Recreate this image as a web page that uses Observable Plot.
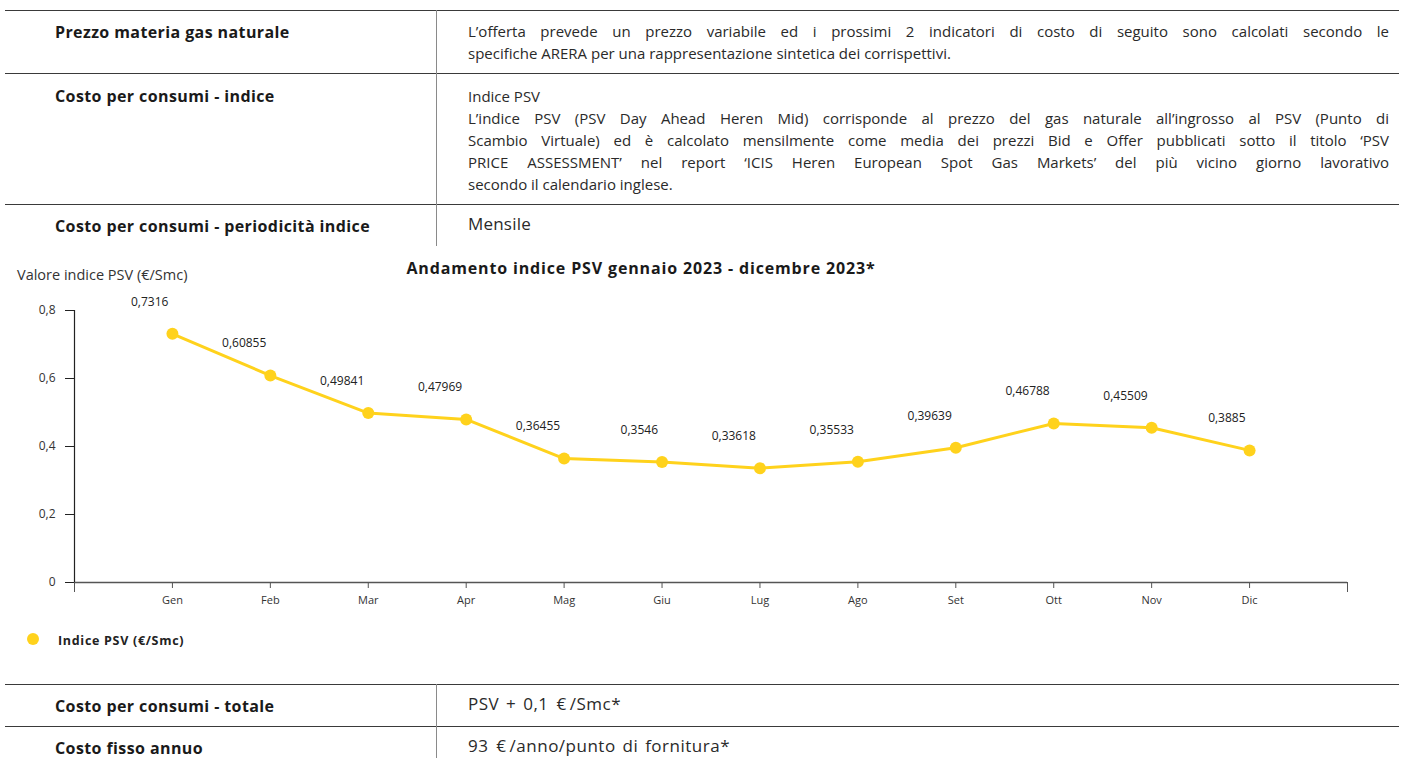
<!DOCTYPE html>
<html>
<head>
<meta charset="utf-8">
<script src="https://cdn.jsdelivr.net/npm/d3@7"></script>
<script src="https://cdn.jsdelivr.net/npm/@observablehq/plot@0.6"></script>
<style>
  html, body { margin: 0; padding: 0; background: #fff; }
  body { width: 1401px; height: 758px; position: relative; overflow: hidden; font-family: "Open Sans", sans-serif; color: #222; }
  .hline { position: absolute; left: 5px; width: 1394px; height: 0; border-top: 1px solid #3a3a3a; }
  .vline { position: absolute; left: 436px; width: 0; border-left: 1px solid #8a8a8a; }
  .lt { position: absolute; left: 55px; font-size: 16px; letter-spacing: 0.4px; line-height: 22px; font-weight: 700; white-space: nowrap; color: #1a1a1a; }
  .rt { position: absolute; left: 468px; width: 921px; font-size: 15px; line-height: 22px; color: #2a2a2a; }
  .rt.big { font-size: 17px; letter-spacing: 0.2px; }
  .rt.big2 { font-size: 17px; letter-spacing: 0.5px; word-spacing: 2px; }
  .rt div { white-space: nowrap; }
  .eur { margin-right: 3px; margin-left: 1px; }
  .j { text-align: justify; text-align-last: justify; }
  #title { position: absolute; left: 0; width: 1282px; top: 257px; text-align: center; font-weight: 700; font-size: 16px; letter-spacing: 0.85px; line-height: 22px; color: #1a1a1a; }
  #ylab { position: absolute; left: 17px; top: 265px; font-size: 14.5px; line-height: 20px; color: #333; }
  #chart { position: absolute; left: 0; top: 290px; }
  #legend { position: absolute; left: 27px; top: 632px; display: flex; align-items: center; font-size: 12.5px; letter-spacing: 0.7px; font-weight: 700; color: #222; }
  #legend .sw { width: 12px; height: 12px; border-radius: 50%; margin-right: 19px; margin-top: -4px; }
</style>
</head>
<body>
<div class="hline" style="top:10px"></div>
<div class="hline" style="top:73px"></div>
<div class="hline" style="top:204px"></div>
<div class="vline" style="top:10px;height:236px"></div>

<div class="lt" style="top:21px">Prezzo materia gas naturale</div>
<div class="rt" style="top:20px">
  <div class="j">L’offerta prevede un prezzo variabile ed i prossimi 2 indicatori di costo di seguito sono calcolati secondo le</div>
  <div>specifiche ARERA per una rappresentazione sintetica dei corrispettivi.</div>
</div>

<div class="lt" style="top:85px">Costo per consumi - indice</div>
<div class="rt" style="top:85px">
  <div>Indice PSV</div>
  <div class="j">L’indice PSV (PSV Day Ahead Heren Mid) corrisponde al prezzo del gas naturale all’ingrosso al PSV (Punto di</div>
  <div class="j">Scambio Virtuale) ed è calcolato mensilmente come media dei prezzi Bid e Offer pubblicati sotto il titolo ‘PSV</div>
  <div class="j">PRICE ASSESSMENT’ nel report ‘ICIS Heren European Spot Gas Markets’ del più vicino giorno lavorativo</div>
  <div>secondo il calendario inglese.</div>
</div>

<div class="lt" style="top:215px">Costo per consumi - periodicità indice</div>
<div class="rt big" style="top:213px"><div>Mensile</div></div>

<div id="ylab">Valore indice PSV (€/Smc)</div>
<div id="title">Andamento indice PSV gennaio 2023 - dicembre 2023*</div>
<div id="chart"></div>
<div id="legend"><span class="sw"></span><span>Indice PSV (€/Smc)</span></div>

<div class="hline" style="top:684px"></div>
<div class="hline" style="top:726px"></div>
<div class="vline" style="top:684px;height:80px"></div>
<div class="lt" style="top:695px">Costo per consumi - totale</div>
<div class="rt big2" style="top:693px"><div>PSV + 0,1 <span class="eur">€</span>/Smc*</div></div>
<div class="lt" style="top:737px">Costo fisso annuo</div>
<div class="rt big2" style="top:735px"><div>93 <span class="eur">€</span>/anno/punto di fornitura*</div></div>

<script>
const months = ["Gen", "Feb", "Mar", "Apr", "Mag", "Giu", "Lug", "Ago", "Set", "Ott", "Nov", "Dic"];
const values = [0.7316, 0.60855, 0.49841, 0.47969, 0.36455, 0.3546, 0.33618, 0.35533, 0.39639, 0.46788, 0.45509, 0.3885];
const yTicks = [0, 0.2, 0.4, 0.6, 0.8];
const seriesName = "Indice PSV (€/Smc)";
const yellow = "#FFD21C";

document.querySelector("#legend .sw").style.background = yellow;

const data = months.map((m, i) => ({month: m, value: values[i]}));
const fmt = v => String(v).replace(".", ",");
const xDomain = ["__start", ...months, "__end"];

const chart = Plot.plot({
  width: 1401,
  height: 322,
  marginTop: 20,
  marginLeft: 74,
  marginRight: 54,
  marginBottom: 30,
  style: {fontFamily: "'Open Sans', sans-serif", fontSize: "11px", color: "#333", background: "transparent", overflow: "visible"},
  x: {type: "point", domain: xDomain, padding: 0, round: false},
  y: {domain: [0, 0.8]},
  marks: [
    Plot.axisY(yTicks, {tickSize: 9, tickPadding: 10, tickFormat: fmt, label: null, stroke: "#222", fontSize: 12}),
    Plot.axisX(months, {tickSize: 6, tickPadding: 8, label: null, stroke: "#555", fontSize: 11}),
    Plot.axisX(["__start", "__end"], {tickSize: 10, tickFormat: () => "", label: null, stroke: "#555"}),
    Plot.ruleY([0], {stroke: "#555", strokeWidth: 1.5}),
    Plot.ruleX(["__start"], {stroke: "#222", strokeWidth: 1.2}),
    Plot.line(data, {x: "month", y: "value", stroke: yellow, strokeWidth: 3}),
    Plot.dot(data, {x: "month", y: "value", r: 6, fill: yellow}),
    Plot.text(data, {x: "month", y: "value", text: d => fmt(d.value), textAnchor: "end", dx: -4, dy: -32, fontSize: 12, fill: "#222"})
  ]
});
document.getElementById("chart").appendChild(chart);
</script>
</body>
</html>
